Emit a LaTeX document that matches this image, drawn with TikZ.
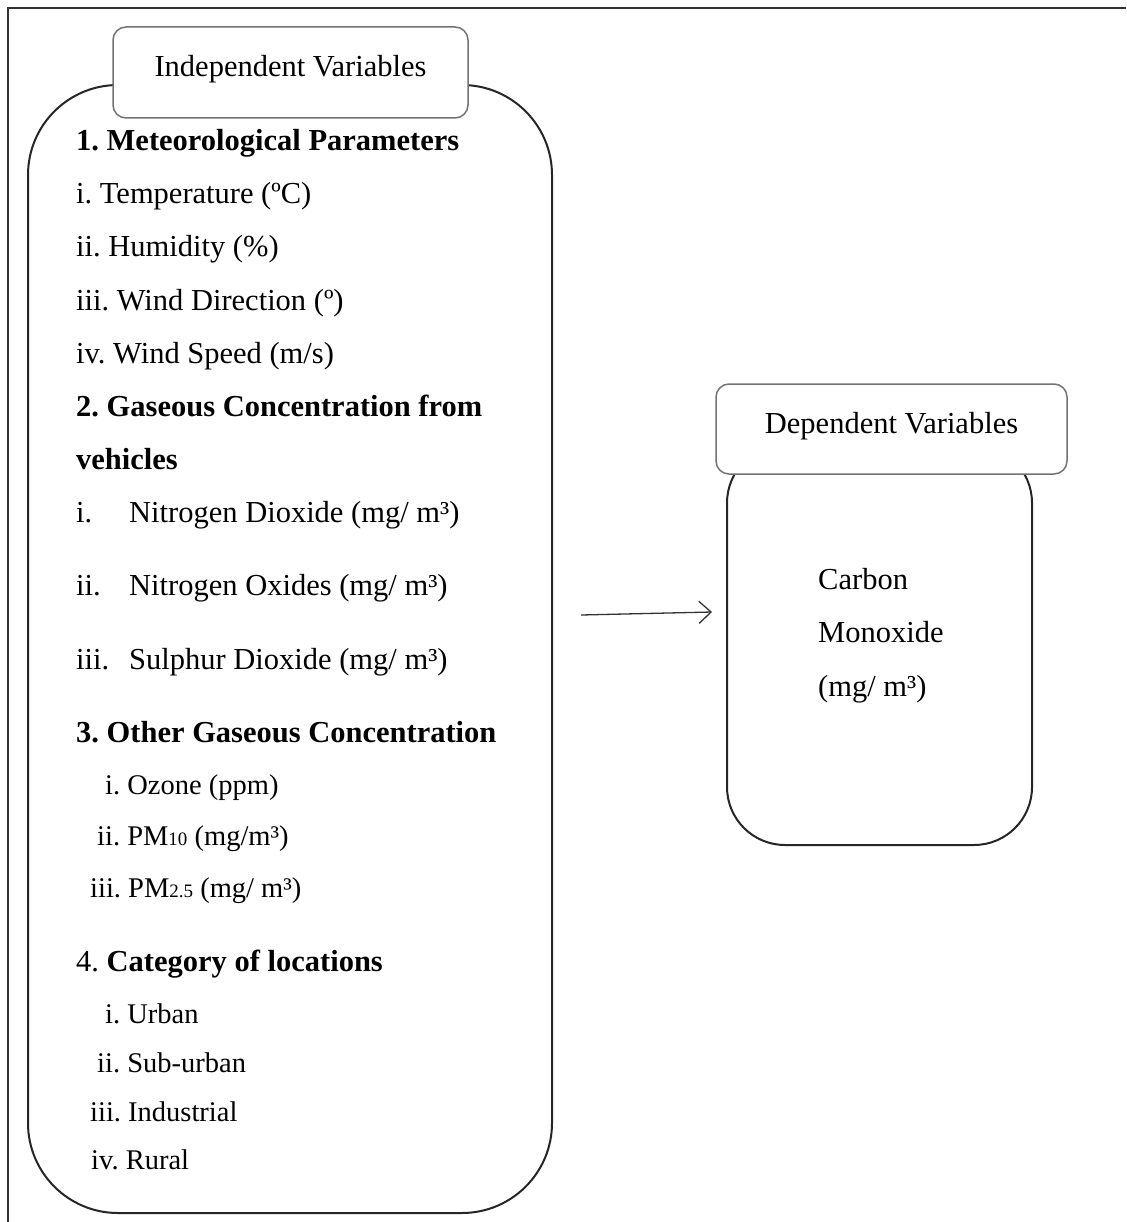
\documentclass[tikz,border=0pt]{standalone}
\usepackage{fontspec}
\setmainfont{Liberation Serif}
\usetikzlibrary{arrows.meta}
\frenchspacing
\begin{document}
\begin{tikzpicture}[x=1pt,y=-1pt,
  txt/.style={anchor=base west,inner sep=0pt,font=\fontsize{30.5}{36}\selectfont\frenchspacing},
  smalltxt/.style={anchor=base west,inner sep=0pt,font=\fontsize{28.5}{34}\selectfont\frenchspacing},
  bigbox/.style={draw=black!85,line width=2pt,fill=white},
  headbox/.style={draw=black!55,line width=1.5pt,fill=white,rounded corners=13pt,inner sep=0pt,font=\fontsize{30.5}{36}\selectfont,text height=20pt},
  connector/.style={draw=black!80,line width=1.3pt,-{Straight Barb[length=12pt,width=22pt,line width=1.3pt]}}]
\useasboundingbox (0,0) rectangle (1126,1222);
% outer frame (top and left edges visible)
\draw[line width=2pt,black!80] (8,1222) -- (8,8) -- (1126,8);
% left body box
\node[bigbox,rounded corners=90pt,minimum width=524pt,minimum height=1128pt] (ibody) at (290,649) {};
\node[headbox,minimum width=355pt,minimum height=91pt,text depth=11pt] (ihead) at (290.5,72.5) {Independent Variables};
% right body box
\node[bigbox,rounded corners=58pt,minimum width=305pt,minimum height=400pt] (dbody) at (879.5,645) {};
\node[headbox,minimum width=351pt,minimum height=90pt,text depth=12pt] (dhead) at (891.5,429) {Dependent Variables};
% left texts
\node[txt] (t1) at (76,151) {\textbf{1. Meteorological Parameters}};
\node[txt] (t1a) at (76,204) {i. Temperature (ºC)};
\node[txt] (t1b) at (76,257) {ii. Humidity (\%)};
\node[txt] (t1c) at (76,310) {iii. Wind Direction (º)};
\node[txt] (t1d) at (76,363) {iv. Wind Speed (m/s)};
\node[txt] (t2) at (76,416) {\textbf{2. Gaseous Concentration from}};
\node[txt] (t2x) at (76,469) {\textbf{vehicles}};
\node[txt] (t2an) at (76,522) {i.};
\node[txt] (t2a) at (129,522) {Nitrogen Dioxide (mg/ m³)};
\node[txt] (t2bn) at (76,595) {ii.};
\node[txt] (t2b) at (129,595) {Nitrogen Oxides (mg/ m³)};
\node[txt] (t2cn) at (76,669) {iii.};
\node[txt] (t2c) at (129,669) {Sulphur Dioxide (mg/ m³)};
\node[txt] (t3) at (76,742) {\textbf{3. Other Gaseous Concentration}};
\node[smalltxt] (t3a) at (105,794) {i. Ozone (ppm)};
\node[smalltxt] (t3b) at (97,845) {ii. PM{\fontsize{19}{22}\selectfont 10} (mg/m³)};
\node[smalltxt] (t3c) at (90,897) {iii. PM{\fontsize{19}{22}\selectfont 2.5} (mg/ m³)};
\node[txt] (t4) at (76,971) {4. \textbf{Category of locations}};
\node[smalltxt] (t4a) at (105,1023) {i. Urban};
\node[smalltxt] (t4b) at (97,1072) {ii. Sub-urban};
\node[smalltxt] (t4c) at (90,1121) {iii. Industrial};
\node[smalltxt] (t4d) at (91,1169) {iv. Rural};
% right texts
\node[txt] (r1) at (818,589) {Carbon};
\node[txt] (r2) at (818,642) {Monoxide};
\node[txt] (r3) at (818,696) {(mg/ m³)};
% arrow
\coordinate (as) at (581,615);
\coordinate (ae) at (712,612);
\draw[connector] (as) -- (ae);
\end{tikzpicture}
\end{document}
